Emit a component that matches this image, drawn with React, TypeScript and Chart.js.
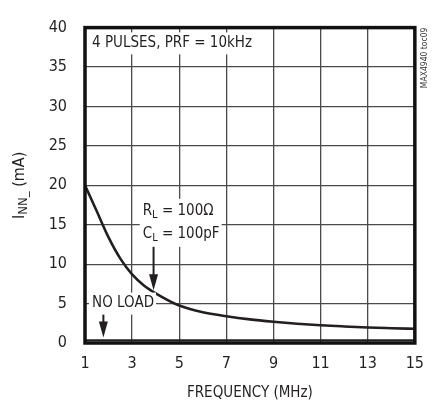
import React, { useEffect, useRef } from "react";
import { Chart, registerables } from "chart.js";

Chart.register(...registerables);

const freqMHz = [1, 1.5, 2, 2.5, 3, 3.5, 4, 5, 6, 7, 8, 9, 10, 11, 12, 13, 14, 15];
const innLoaded = [20, 16.7, 13.4, 10.7, 8.7, 7.3, 6.3, 4.75, 3.9, 3.4, 3.0, 2.7, 2.45, 2.25, 2.1, 1.97, 1.88, 1.8];
const noLoadFreq = [1, 15];
const innNoLoad = [0.35, 0.35];
const xTicks = [1, 3, 5, 7, 9, 11, 13, 15];
const yTicks = [0, 5, 10, 15, 20, 25, 30, 35, 40];

const FONT = "'Liberation Sans Narrow', 'DejaVu Sans Condensed', 'Arial Narrow', sans-serif";
const INK = "#231f20";
const FS = 15;
const SUB = 11;

type Part = { t: string; sub?: boolean };

function partsWidth(ctx: CanvasRenderingContext2D, parts: Part[], size: number, subSize: number) {
  let w = 0;
  for (const p of parts) {
    ctx.font = `${p.sub ? subSize : size}px ${FONT}`;
    w += ctx.measureText(p.t).width;
  }
  return w;
}

function drawParts(ctx: CanvasRenderingContext2D, parts: Part[], x: number, y: number, size: number, subSize: number) {
  let cx = x;
  ctx.textAlign = "left";
  ctx.textBaseline = "middle";
  for (const p of parts) {
    ctx.font = `${p.sub ? subSize : size}px ${FONT}`;
    ctx.fillText(p.t, cx, p.sub ? y + 4 : y);
    cx += ctx.measureText(p.t).width;
  }
}

function arrow(ctx: CanvasRenderingContext2D, x: number, y0: number, y1: number) {
  ctx.save();
  ctx.strokeStyle = INK;
  ctx.fillStyle = INK;
  ctx.lineWidth = 2;
  ctx.beginPath();
  ctx.moveTo(x, y0);
  ctx.lineTo(x, y1 - 12);
  ctx.stroke();
  ctx.beginPath();
  ctx.moveTo(x - 4.5, y1 - 16);
  ctx.lineTo(x + 4.5, y1 - 16);
  ctx.lineTo(x, y1);
  ctx.closePath();
  ctx.fill();
  ctx.restore();
}

const overlay = {
  id: "overlay",
  afterDatasetsDraw(chart: any) {
    const ctx: CanvasRenderingContext2D = chart.ctx;
    const xs = chart.scales.x;
    const ys = chart.scales.y;
    const ca = chart.chartArea;
    ctx.save();
    ctx.fillStyle = INK;

    const boxes: { x: number; y: number; lines: Part[][]; lh: number }[] = [
      { x: 1.3, y: 38.0, lines: [[{ t: "4 PULSES, PRF = 10kHz" }]], lh: 20 },
      {
        x: 3.45,
        y: 16.7,
        lines: [
          [{ t: "R" }, { t: "L", sub: true }, { t: " = 100Ω" }],
          [{ t: "C" }, { t: "L", sub: true }, { t: " = 100pF" }],
        ],
        lh: 23,
      },
      { x: 1.3, y: 5.0, lines: [[{ t: "NO LOAD" }]], lh: 20 },
    ];
    for (const b of boxes) {
      const px = xs.getPixelForValue(b.x);
      const py = ys.getPixelForValue(b.y);
      let w = 0;
      for (const l of b.lines) w = Math.max(w, partsWidth(ctx, l, FS, SUB));
      const h = b.lh * b.lines.length;
      ctx.fillStyle = "#ffffff";
      ctx.fillRect(px - 3, py - b.lh / 2 - 1, w + 5, h + 2);
      ctx.fillStyle = INK;
      b.lines.forEach((l, i) => drawParts(ctx, l, px, py + i * b.lh, FS, SUB));
    }

    arrow(ctx, xs.getPixelForValue(3.91), ys.getPixelForValue(12.2), ys.getPixelForValue(6.7));
    arrow(ctx, xs.getPixelForValue(1.78), ys.getPixelForValue(3.6), ys.getPixelForValue(0.7));

    ctx.strokeStyle = "#111";
    ctx.lineWidth = 3.5;
    ctx.strokeRect(ca.left, ca.top, ca.right - ca.left, ca.bottom - ca.top);

    const yParts: Part[] = [{ t: "I" }, { t: "NN_", sub: true }, { t: " (mA)" }];
    const tw = partsWidth(ctx, yParts, 16, 13);
    ctx.save();
    ctx.translate(20, (ca.top + ca.bottom) / 2);
    ctx.rotate(-Math.PI / 2);
    ctx.fillStyle = INK;
    drawParts(ctx, yParts, -tw / 2, 0, 16, 13);
    ctx.restore();

    ctx.save();
    ctx.translate(ca.right + 10, ca.top);
    ctx.rotate(-Math.PI / 2);
    ctx.font = `8.5px ${FONT}`;
    ctx.fillStyle = "#333";
    ctx.textAlign = "right";
    ctx.textBaseline = "middle";
    ctx.fillText("MAX4940 toc09", 0, 0);
    ctx.restore();

    ctx.restore();
  },
};

export default function App() {
  const ref = useRef<HTMLCanvasElement | null>(null);
  useEffect(() => {
    if (!ref.current) return;
    const chart = new Chart(ref.current, {
      type: "line",
      data: {
        datasets: [
          {
            label: "RL = 100Ω, CL = 100pF",
            data: freqMHz.map((x, i) => ({ x, y: innLoaded[i] })),
            borderColor: INK,
            borderWidth: 2.6,
            pointRadius: 0,
            cubicInterpolationMode: "monotone",
            fill: false,
          },
          {
            label: "NO LOAD",
            data: noLoadFreq.map((x, i) => ({ x, y: innNoLoad[i] })),
            borderColor: INK,
            borderWidth: 2,
            pointRadius: 0,
            fill: false,
          },
        ],
      },
      options: {
        animation: false,
        responsive: false,
        devicePixelRatio: 1,
        layout: { padding: { left: 0, right: 18, top: 13, bottom: 0 } },
        plugins: { legend: { display: false }, tooltip: { enabled: false }, title: { display: false } },
        scales: {
          x: {
            type: "linear",
            min: 1,
            max: 15,
            afterFit: (s: any) => {
              s.height = 64;
            },
            afterBuildTicks: (s: any) => {
              s.ticks = xTicks.map((v) => ({ value: v }));
            },
            ticks: { color: INK, font: { family: FONT, size: 16 }, padding: 11, maxRotation: 0, autoSkip: false },
            grid: { color: "#4a4a4a", lineWidth: 1.3, drawTicks: false },
            border: { display: false },
            title: {
              display: true,
              text: "FREQUENCY (MHz)",
              color: INK,
              font: { family: FONT, size: FS },
              padding: { top: 0, bottom: 5 },
            },
          },
          y: {
            type: "linear",
            min: 0,
            max: 40,
            afterFit: (s: any) => {
              s.width = 85;
            },
            afterBuildTicks: (s: any) => {
              s.ticks = yTicks.map((v) => ({ value: v }));
            },
            ticks: { color: INK, font: { family: FONT, size: 16 }, padding: 18, autoSkip: false },
            grid: { color: "#4a4a4a", lineWidth: 1.3, drawTicks: false },
            border: { display: false },
          },
        },
      },
      plugins: [overlay],
    });
    return () => chart.destroy();
  }, []);
  return (
    <div style={{ position: "absolute", left: 0, top: 0, width: 435, height: 407, background: "#fff" }}>
      <canvas ref={ref} width={435} height={407} style={{ display: "block" }} />
    </div>
  );
}
